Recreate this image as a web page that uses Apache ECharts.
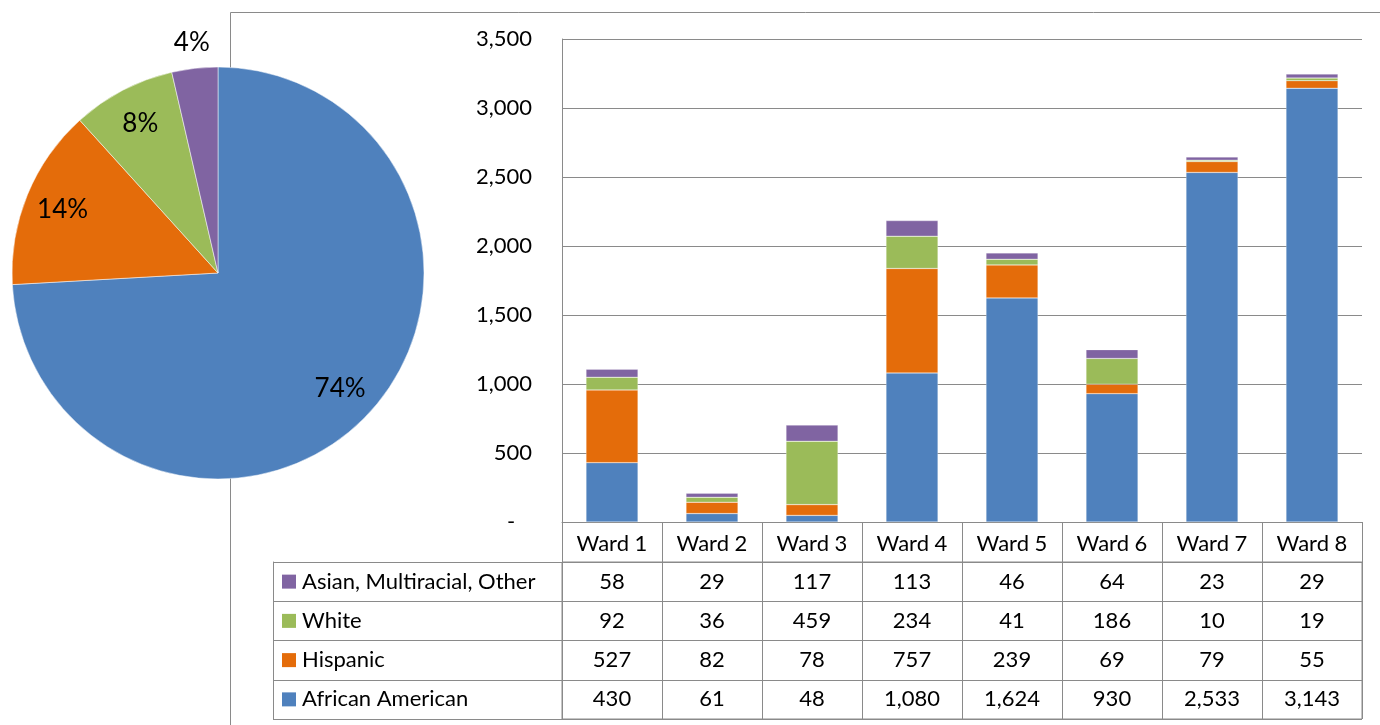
<!DOCTYPE html>
<html><head><meta charset="utf-8">
<script src="https://cdn.jsdelivr.net/npm/echarts@6/dist/echarts.min.js"></script>
<style>html,body{margin:0;padding:0;background:#fff}#c{width:1380px;height:725px}</style>
</head><body><div id="c"></div>
<script>
const wards = ['Ward 1','Ward 2','Ward 3','Ward 4','Ward 5','Ward 6','Ward 7','Ward 8'];
const groups = ['African American','Hispanic','White','Asian, Multiracial, Other'];
const africanAmerican = [430, 61, 48, 1080, 1624, 930, 2533, 3143];
const hispanic = [527, 82, 78, 757, 239, 69, 79, 55];
const white = [92, 36, 459, 234, 41, 186, 10, 19];
const asianOther = [58, 29, 117, 113, 46, 64, 23, 29];
const yMin = 0, yMax = 3500, yStep = 500;

const colors = ['#4F81BD', '#E46C0A', '#9BBB59', '#8064A2'];
const FONT = 'Lato, "Open Sans", sans-serif';
const FS = 22;
const LINE = '#8a8a8a';
const seriesValues = [africanAmerican, hispanic, white, asianOther];
const totals = seriesValues.map(a => a.reduce((s, v) => s + v, 0));
const fmt = v => Number(v).toLocaleString('en-US');

const cells = [];
seriesValues.forEach((arr, r) => arr.forEach((v, w) => cells.push([w, r, v])));

const rich = { t: { fontSize: FS, color: '#000', fontFamily: FONT, padding: [0, 0, 0, 6] } };
colors.forEach((c, i) => { rich['m' + i] = { backgroundColor: c, width: 14, height: 14 }; });

const pieData = (showFn) => groups.map((g, i) => ({
  name: g, value: totals[i],
  itemStyle: { color: colors[i] },
  label: { show: showFn(i) }
}));
const pctLabel = {
  position: 'inside', color: '#000', fontSize: 26, fontFamily: FONT,
  formatter: p => Math.round(p.percent) + '%'
};

const chart = echarts.init(document.getElementById('c'), null, { renderer: 'canvas' });
chart.setOption({
  animation: false,
  textStyle: { fontFamily: FONT },
  graphic: [{
    type: 'rect', z: 0, silent: true,
    shape: { x: 230.5, y: 12.5, width: 1300, height: 800 },
    style: { fill: 'none', stroke: LINE, lineWidth: 1 }
  }],
  grid: [
    { left: 562, right: 18, top: 39, bottom: 203 },
    { left: 562, right: 18, top: 562, bottom: 6, show: true, borderColor: LINE, borderWidth: 1 }
  ],
  xAxis: [
    { gridIndex: 0, type: 'category', data: wards,
      axisLine: { lineStyle: { color: LINE } },
      axisTick: { show: true, length: 40, lineStyle: { color: LINE } },
      axisLabel: { margin: 11, fontSize: FS, color: '#000', fontFamily: FONT } },
    { gridIndex: 1, type: 'category', data: wards,
      axisLine: { show: false }, axisTick: { show: false }, axisLabel: { show: false },
      splitLine: { show: true, lineStyle: { color: LINE } } }
  ],
  yAxis: [
    { gridIndex: 0, type: 'value', min: yMin, max: yMax, interval: yStep,
      axisLine: { show: true, lineStyle: { color: LINE } },
      axisTick: { show: false },
      splitLine: { show: true, lineStyle: { color: LINE, width: 1 } },
      axisLabel: { margin: 30, fontSize: FS, color: '#000', fontFamily: FONT,
        formatter: v => v === 0 ? '-   ' : fmt(v) } },
    { gridIndex: 1, type: 'category', data: groups,
      axisLine: { show: true, lineStyle: { color: LINE } },
      axisTick: { show: true, length: 289, lineStyle: { color: LINE } },
      splitLine: { show: true, lineStyle: { color: LINE } },
      axisLabel: { align: 'left', margin: 280, formatter: (v, i) => '{m' + i + '|}{t|' + v + '}', rich: rich } },
    { gridIndex: 1, type: 'category', data: groups, position: 'left', offset: 289,
      axisLine: { show: true, lineStyle: { color: LINE } },
      axisTick: { show: false }, axisLabel: { show: false }, splitLine: { show: false } }
  ],
  series: [
    ...groups.map((g, i) => ({
      type: 'bar', name: g, stack: 'total', xAxisIndex: 0, yAxisIndex: 0,
      barWidth: '52%', data: seriesValues[i],
      itemStyle: { color: colors[i], borderColor: 'rgba(255,255,255,0.5)', borderWidth: 0.5 },
      silent: true
    })),
    { type: 'custom', xAxisIndex: 1, yAxisIndex: 1, data: cells, silent: true,
      renderItem: (params, api) => {
        const p = api.coord([api.value(0), api.value(1)]);
        return { type: 'text', x: p[0], y: p[1],
          style: { text: fmt(api.value(2)), align: 'center', verticalAlign: 'middle',
            fontSize: FS, fontFamily: FONT, fill: '#000' } };
      } },
    { type: 'pie', center: [218, 273], radius: 206, startAngle: 90, z: 3, silent: true,
      label: { show: false }, labelLine: { show: false },
      itemStyle: { borderColor: '#fff', borderWidth: 0.5 },
      data: pieData(() => false) },
    { type: 'pie', center: [218, 273], radius: [0, 330], startAngle: 90, z: 4, silent: true,
      itemStyle: { color: 'rgba(0,0,0,0)' }, labelLine: { show: false },
      label: pctLabel,
      data: pieData(i => i < 3).map(d => Object.assign(d, { itemStyle: { color: 'rgba(0,0,0,0)' } })) },
    { type: 'pie', center: [218, 273], radius: [0, 458], startAngle: 90, z: 4, silent: true,
      itemStyle: { color: 'rgba(0,0,0,0)' }, labelLine: { show: false },
      label: pctLabel,
      data: pieData(i => i === 3).map(d => Object.assign(d, { itemStyle: { color: 'rgba(0,0,0,0)' } })) }
  ]
});
</script></body></html>
